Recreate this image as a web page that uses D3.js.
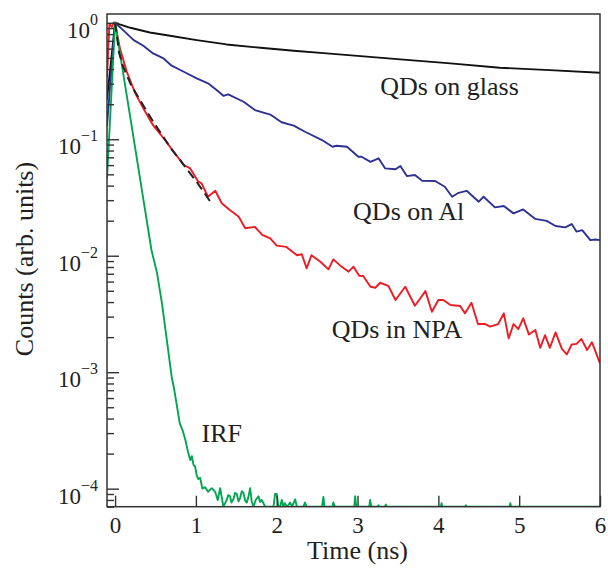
<!DOCTYPE html>
<html>
<head>
<meta charset="utf-8">
<script src="https://cdn.jsdelivr.net/npm/d3@7"></script>
<style>
  body { margin: 0; background: #fff; }
  svg { display: block; }
  text { font-family: "Liberation Serif", "Times New Roman", serif; fill: #231f20; }
</style>
</head>
<body>
<svg width="608" height="569"></svg>
<script>
// [time (ns), counts]; 0 = no counts (sits on the axis)
var glass = [[-0.1, 0.22], [0, 1], [0.19, 0.906], [0.43, 0.826], [0.68, 0.774], [1.01, 0.71], [1.38, 0.652],
    [1.8, 0.61], [2.21, 0.575], [2.62, 0.546], [3.0, 0.52], [3.53, 0.485], [4.15, 0.448], [4.76, 0.411],
    [5.38, 0.392], [6.0, 0.372]];

var onAl = [[-0.1, 0.13], [0, 1], [0.10, 0.865], [0.23, 0.71], [0.35, 0.635], [0.47, 0.546], [0.60, 0.494],
    [0.70, 0.428], [0.85, 0.38], [1.01, 0.333], [1.15, 0.302], [1.26, 0.264], [1.34, 0.236], [1.40, 0.243],
    [1.59, 0.21], [1.73, 0.178], [1.92, 0.163], [2.06, 0.14], [2.21, 0.131], [2.35, 0.116], [2.56, 0.0985],
    [2.69, 0.0863], [2.74, 0.088], [2.87, 0.0863], [3.01, 0.0708], [3.05, 0.0708], [3.16, 0.064], [3.26, 0.0686],
    [3.34, 0.0563], [3.47, 0.0552], [3.53, 0.0589], [3.61, 0.0483], [3.71, 0.0493], [3.80, 0.044], [3.96, 0.0438],
    [4.08, 0.0391], [4.17, 0.0321], [4.25, 0.0347], [4.35, 0.0361], [4.50, 0.0291], [4.56, 0.0321], [4.70, 0.026],
    [4.81, 0.0267], [4.93, 0.0231], [5.05, 0.025], [5.20, 0.0207], [5.34, 0.0199], [5.45, 0.018], [5.57, 0.0175],
    [5.65, 0.0187], [5.71, 0.0161], [5.78, 0.0166], [5.88, 0.0136], [5.94, 0.0138], [6.0, 0.0136]];

var inNPA = [[-0.1, 0.34], [-0.07, 0.98], [-0.04, 0.92], [-0.02, 1], [0, 1], [0.06, 0.603], [0.145, 0.38],
    [0.25, 0.248], [0.35, 0.184], [0.47, 0.132], [0.60, 0.102], [0.74, 0.0757], [0.85, 0.0601], [0.93, 0.0562],
    [1.03, 0.0432], [1.07, 0.0418], [1.15, 0.0321], [1.24, 0.0361], [1.32, 0.0282], [1.42, 0.0247], [1.53, 0.0216],
    [1.61, 0.0172], [1.73, 0.0177], [1.82, 0.0151], [1.92, 0.0141], [2.00, 0.0122], [2.12, 0.0119], [2.25, 0.0101],
    [2.31, 0.0103], [2.37, 0.0078], [2.43, 0.0101], [2.54, 0.00888], [2.64, 0.00764], [2.70, 0.0093], [2.78, 0.0083],
    [2.89, 0.0073], [2.95, 0.00805], [3.02, 0.00673], [3.07, 0.0067], [3.16, 0.00542], [3.22, 0.00531],
    [3.28, 0.00586], [3.38, 0.00552], [3.47, 0.00417], [3.59, 0.00542], [3.71, 0.00372], [3.84, 0.00497],
    [3.92, 0.0033], [4.00, 0.00417], [4.06, 0.00417], [4.15, 0.00377], [4.27, 0.0037], [4.33, 0.0032],
    [4.41, 0.00395], [4.49, 0.00259], [4.58, 0.00259], [4.64, 0.00246], [4.74, 0.00259], [4.81, 0.0032],
    [4.87, 0.00195], [4.93, 0.00259], [4.99, 0.00235], [5.05, 0.0029], [5.12, 0.00211], [5.20, 0.0023],
    [5.26, 0.00162], [5.32, 0.00208], [5.38, 0.00162], [5.45, 0.0022], [5.53, 0.00158], [5.59, 0.00142],
    [5.65, 0.00173], [5.71, 0.00175], [5.77, 0.00193], [5.84, 0.00155], [5.90, 0.00181], [6.0, 0.00119]];

var npaFit = [[0, 1], [0.05, 0.55], [0.1, 0.42], [0.2, 0.29], [0.3, 0.222], [0.4, 0.17], [0.5, 0.132],
    [0.6, 0.104], [0.7, 0.082], [0.8, 0.067], [0.9, 0.054], [1.0, 0.044], [1.1, 0.035], [1.18, 0.029]];

var irf = [[-0.1, 0.046], [0, 1], [0.19, 0.151], [0.35, 0.0305], [0.45, 0.0112], [0.52, 0.00706], [0.58, 0.0039],
    [0.64, 0.00189], [0.70, 0.000914], [0.73, 0.00072], [0.76, 0.00054], [0.80, 0.000364], [0.84, 0.00031],
    [0.87, 0.000262], [0.90, 0.00021], [0.93, 0.000176], [0.95, 0.00019], [0.97, 0.00016], [0.99, 0.000155],
    [1.01, 0.00013], [1.03, 0.000121], [1.052, 0.000124], [1.08, 0.0001], [1.114, 0.000103], [1.15, 0.000094],
    [1.196, 0.000101], [1.238, 0.000094], [1.27, 0.00008], [1.30, 0.000101], [1.34, 0], [1.382, 0.00008],
    [1.40, 0.000088], [1.423, 0.000086], [1.44, 0.000076], [1.464, 0.000081], [1.485, 0.000092], [1.506, 0.00009],
    [1.527, 0.000078], [1.547, 0.000083], [1.568, 0.000095], [1.588, 0.000092], [1.61, 0.000079], [1.63, 0.000076],
    [1.65, 0.000085], [1.671, 0.000101], [1.69, 0.000078], [1.712, 0], [1.74, 0.00008], [1.774, 0.000086],
    [1.795, 0.000077], [1.815, 0.00008], [1.856, 0], [1.96, 0], [1.98, 0.00009], [2.0, 0.00009], [2.02, 0],
    [2.04, 0], [2.063, 0.00008], [2.08, 0], [2.10, 0.000075], [2.13, 0], [2.166, 0.000076], [2.19, 0],
    [2.228, 0.000081], [2.25, 0], [2.33, 0], [2.35, 0.000076], [2.37, 0], [2.56, 0], [2.578, 0.000085], [2.59, 0],
    [2.69, 0], [2.70, 0.000076], [2.72, 0], [2.96, 0], [2.97, 0.000086], [2.985, 0], [3.145, 0], [3.156, 0.00008],
    [3.17, 0], [3.25, 0], [3.26, 0.000072], [3.27, 0], [3.34, 0], [3.35, 0.000073], [3.36, 0], [4.03, 0],
    [4.04, 0.000075], [4.05, 0], [4.33, 0], [4.34, 0.000072], [4.35, 0], [4.88, 0], [4.89, 0.000075], [4.90, 0],
    [6.0, 0]];

var xTicks = [0, 1, 2, 3, 4, 5, 6];
var yExponents = [0, -1, -2, -3, -4];
// curve labels, anchored at the start of their baseline (time, counts)
var labels = [
    { text: "QDs on glass", t: 3.28, v: 0.239 },
    { text: "QDs on Al", t: 2.945, v: 0.0202 },
    { text: "QDs in NPA", t: 2.68, v: 0.00197 },
    { text: "IRF", t: 1.07, v: 0.000253 }
];

var svg = d3.select("svg");
var plotLeft = 107, plotRight = 600, plotTop = 14, plotBottom = 506.7;

var x = d3.scaleLinear().domain([-0.1, 6]).range([plotLeft, plotRight]);
var y = d3.scaleLog().domain([7.0e-5, 1.19]).range([plotBottom, plotTop]).clamp(true);

svg.append("clipPath").attr("id", "plot")
    .append("rect")
    .attr("x", plotLeft).attr("y", plotTop)
    .attr("width", plotRight - plotLeft).attr("height", plotBottom - plotTop);

var line = d3.line()
    .x(function (d) { return x(d[0]); })
    .y(function (d) { return y(d[1] > 0 ? d[1] : 1e-6); });

var curves = svg.append("g").attr("clip-path", "url(#plot)").attr("fill", "none")
    .attr("stroke-linejoin", "round");

curves.append("path").attr("d", line(glass)).attr("stroke", "#111").attr("stroke-width", 1.9);
curves.append("path").attr("d", line(onAl)).attr("stroke", "#2e3192").attr("stroke-width", 1.9);
curves.append("path").attr("d", line(inNPA)).attr("stroke", "#ed1c24").attr("stroke-width", 1.9);
curves.append("path").attr("d", line(irf)).attr("stroke", "#00a651").attr("stroke-width", 1.9);
curves.append("path").attr("d", line(npaFit)).attr("stroke", "#222").attr("stroke-width", 2)
    .attr("stroke-dasharray", "9,5");

// y ticks (inside), major + minor
var majors = yExponents.map(function (e) { return Math.pow(10, e); });
var minors = [];
yExponents.concat([-5]).forEach(function (e) {
    for (var k = 2; k <= 9; k++) {
        var v = k * Math.pow(10, e);
        if (v >= y.domain()[0] && v <= y.domain()[1]) minors.push(v);
    }
});

svg.append("g")
    .attr("transform", "translate(" + plotLeft + ",0)")
    .call(d3.axisRight(y).tickValues(majors).tickSize(12).tickFormat(""))
    .call(function (g) { g.select(".domain").remove(); });
svg.append("g")
    .attr("transform", "translate(" + plotLeft + ",0)")
    .call(d3.axisRight(y).tickValues(minors).tickSize(7).tickFormat(""))
    .call(function (g) { g.select(".domain").remove(); });

// x ticks (inside) with labels below
svg.append("g")
    .attr("transform", "translate(0," + plotBottom + ")")
    .call(d3.axisBottom(x).tickValues(xTicks).tickSizeInner(-11).tickSizeOuter(0).tickPadding(10)
        .tickFormat(d3.format("d")))
    .call(function (g) {
        g.select(".domain").remove();
        g.selectAll("text").style("font-size", "23px").attr("fill", "#231f20")
            .style("font-family", "'Liberation Serif', 'Times New Roman', serif");
    });

svg.selectAll(".tick line").attr("stroke", "#333").attr("stroke-width", 1.4);

// frame
svg.append("rect")
    .attr("x", plotLeft).attr("y", plotTop)
    .attr("width", plotRight - plotLeft).attr("height", plotBottom - plotTop)
    .attr("fill", "none").attr("stroke", "#333").attr("stroke-width", 1.5);

// y tick labels 10^n
var yl = svg.append("g").selectAll("text").data(yExponents).enter().append("text")
    .attr("x", 98)
    .attr("y", function (e) { return y(Math.pow(10, e)) + 15; })
    .attr("text-anchor", "end")
    .style("font-size", "23px");
yl.append("tspan").text("10");
yl.append("tspan").attr("dy", -13).style("font-size", "16px")
    .text(function (e) { return e === 0 ? "0" : "\u2212" + Math.abs(e); });

// axis titles
svg.append("text")
    .attr("x", x(3)).attr("y", 559)
    .attr("text-anchor", "middle")
    .style("font-size", "26px")
    .text("Time (ns)");

svg.append("text")
    .attr("transform", "translate(33," + 259 + ") rotate(-90)")
    .attr("text-anchor", "middle")
    .style("font-size", "26px")
    .text("Counts (arb. units)");

// curve labels
svg.append("g").selectAll("text").data(labels).enter().append("text")
    .attr("x", function (d) { return x(d.t); })
    .attr("y", function (d) { return y(d.v); })
    .style("font-size", "26px")
    .text(function (d) { return d.text; });
</script>
</body>
</html>
